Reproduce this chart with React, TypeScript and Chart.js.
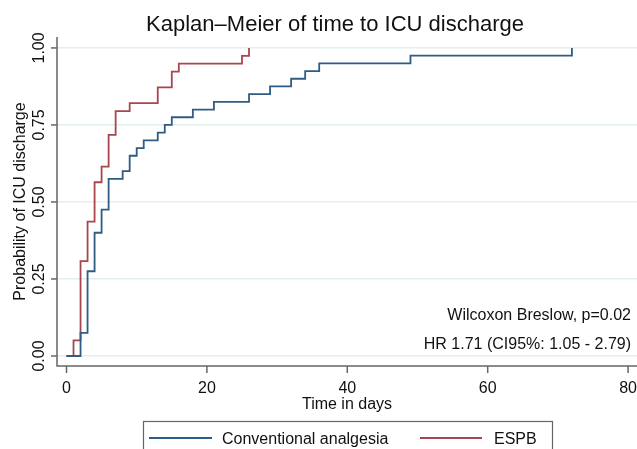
import React, { useEffect, useRef } from "react";
import { Chart, registerables } from "chart.js";

Chart.register(...registerables);

// ---- data ----
const convTimes = [0, 2, 3, 4, 5, 6, 8, 9, 10, 11, 13, 14, 15, 18, 21, 26, 29, 32, 34, 36, 49, 72];
const convSurv = [0, 0.075, 0.275, 0.4, 0.475, 0.575, 0.6, 0.65, 0.675, 0.7, 0.725, 0.75, 0.775, 0.8, 0.825, 0.85, 0.875, 0.9, 0.925, 0.95, 0.975, 1.0];
const espbTimes = [0, 1, 2, 3, 4, 5, 6, 7, 9, 13, 15, 16, 25, 26];
const espbSurv = [0, 0.051, 0.308, 0.436, 0.564, 0.615, 0.718, 0.795, 0.821, 0.872, 0.923, 0.949, 0.974, 1.0];
const xTicks = [0, 20, 40, 60, 80];
const yTicks = [0, 0.25, 0.5, 0.75, 1];
const yTickLabels = ["0.00", "0.25", "0.50", "0.75", "1.00"];
const seriesNames = ["Conventional analgesia", "ESPB"];
const titleText = "Kaplan\u2013Meier of time to ICU discharge";
const xTitle = "Time in days";
const yTitle = "Probability of ICU discharge";
const notes = ["Wilcoxon Breslow, p=0.02", "HR 1.71 (CI95%: 1.05 - 2.79)"];

const FONT = '"Liberation Sans", Arial, sans-serif';
const BLUE = "#2f5b85";
const RED = "#a8464f";
const AXIS = "#666666";
const TEXT = "#111111";

const decorPlugin = {
  id: "decor",
  afterDraw(chart: any) {
    const ctx = chart.ctx as CanvasRenderingContext2D;
    const { left, right, top, bottom } = chart.chartArea;
    const xs = chart.scales.x;
    const ys = chart.scales.y;
    ctx.save();
    // axis lines
    ctx.strokeStyle = AXIS;
    ctx.lineWidth = 1.5;
    ctx.beginPath();
    ctx.moveTo(left, top);
    ctx.lineTo(left, bottom);
    ctx.lineTo(right, bottom);
    ctx.stroke();
    // y ticks + labels
    ctx.fillStyle = TEXT;
    ctx.font = `16px ${FONT}`;
    yTicks.forEach((v, i) => {
      const py = ys.getPixelForValue(v);
      ctx.beginPath();
      ctx.moveTo(left - 6, py);
      ctx.lineTo(left, py);
      ctx.stroke();
      ctx.save();
      ctx.translate(43.5, py);
      ctx.rotate(-Math.PI / 2);
      ctx.textAlign = "center";
      ctx.textBaseline = "alphabetic";
      ctx.fillText(yTickLabels[i], 0, 0);
      ctx.restore();
    });
    // x ticks + labels
    xTicks.forEach((v) => {
      const px = xs.getPixelForValue(v);
      ctx.beginPath();
      ctx.moveTo(px, bottom);
      ctx.lineTo(px, bottom + 7);
      ctx.stroke();
      ctx.textAlign = "center";
      ctx.textBaseline = "alphabetic";
      ctx.fillText(String(v), px, 392.5);
    });
    // axis titles
    ctx.textAlign = "center";
    ctx.fillText(xTitle, (left + right) / 2, 408.5);
    ctx.save();
    ctx.translate(24.5, (top + bottom) / 2);
    ctx.rotate(-Math.PI / 2);
    ctx.fillText(yTitle, 0, 0);
    ctx.restore();
    // notes
    ctx.textAlign = "right";
    ctx.fillText(notes[0], 631, 319.5);
    ctx.fillText(notes[1], 631, 348.5);
    // title
    ctx.font = `22px ${FONT}`;
    ctx.textAlign = "center";
    ctx.fillText(titleText, 335, 30.5);
    // legend
    ctx.strokeStyle = AXIS;
    ctx.lineWidth = 1.2;
    ctx.strokeRect(143.5, 421.5, 409, 40);
    ctx.lineWidth = 1.8;
    ctx.strokeStyle = BLUE;
    ctx.beginPath();
    ctx.moveTo(149, 438);
    ctx.lineTo(212, 438);
    ctx.stroke();
    ctx.strokeStyle = RED;
    ctx.beginPath();
    ctx.moveTo(420, 438);
    ctx.lineTo(482, 438);
    ctx.stroke();
    ctx.font = `16px ${FONT}`;
    ctx.textAlign = "left";
    ctx.fillText(seriesNames[0], 222, 444);
    ctx.fillText(seriesNames[1], 494, 444);
    ctx.restore();
  },
};

export default function App() {
  const ref = useRef<HTMLCanvasElement | null>(null);
  useEffect(() => {
    if (!ref.current) return;
    const chart = new Chart(ref.current, {
      type: "line",
      data: {
        datasets: [
          {
            label: seriesNames[0],
            data: convTimes.map((t, i) => ({ x: t, y: convSurv[i] })),
            borderColor: BLUE,
            borderWidth: 1.8,
            pointRadius: 0,
            stepped: "before",
            fill: false,
          },
          {
            label: seriesNames[1],
            data: espbTimes.map((t, i) => ({ x: t, y: espbSurv[i] })),
            borderColor: RED,
            borderWidth: 1.8,
            pointRadius: 0,
            stepped: "before",
            fill: false,
          },
        ],
      },
      options: {
        animation: false,
        responsive: false,
        layout: { padding: { left: 57, top: 37, right: 0, bottom: 83 } },
        plugins: {
          legend: { display: false },
          title: { display: false },
          tooltip: { enabled: false },
        },
        scales: {
          x: {
            type: "linear",
            min: -1.353,
            max: 81.27,
            ticks: { display: false },
            grid: { display: false, drawTicks: false },
            border: { display: false },
            afterFit: (s: any) => {
              s.height = 0;
            },
          },
          y: {
            type: "linear",
            min: -0.0325,
            max: 1.0355,
            ticks: { display: false },
            grid: { color: "#e4edf0", lineWidth: 1.5, drawTicks: false },
            border: { display: false },
            afterBuildTicks: (s: any) => {
              s.ticks = yTicks.map((v) => ({ value: v }));
            },
            afterFit: (s: any) => {
              s.width = 0;
            },
          },
        },
      },
      plugins: [decorPlugin],
    });
    return () => chart.destroy();
  }, []);
  return (
    <div style={{ position: "fixed", left: 0, top: 0, width: 637, height: 449, background: "#fff" }}>
      <canvas ref={ref} width={637} height={449} style={{ display: "block" }} />
    </div>
  );
}
